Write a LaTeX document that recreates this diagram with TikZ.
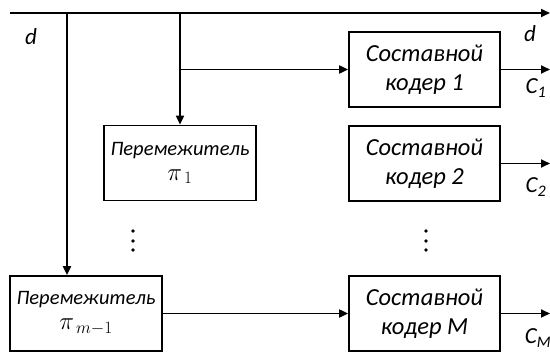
\documentclass[tikz,border=0pt]{standalone}
\usepackage{fontspec}
\setmainfont{Carlito}
\usetikzlibrary{arrows.meta}
\begin{document}
\begin{tikzpicture}[x=1pt,y=-1pt,line width=1.8pt,
  >={Triangle[length=9pt,width=8pt]},
  coderbox/.style={draw,line width=1.7pt,minimum width=151pt,minimum height=75pt,align=center,inner sep=0pt,font=\fontsize{24.5}{28.5}\selectfont\itshape},
  ilvbox/.style={draw,line width=1.7pt,minimum width=152pt,minimum height=75pt,align=center,inner sep=0pt,font=\fontsize{20.5}{24}\selectfont\itshape},
  lbl/.style={font=\fontsize{23}{26}\selectfont\itshape,inner sep=0pt},
  dotmark/.style={fill=black}]
\useasboundingbox (0,0) rectangle (550,356);
\node[coderbox] (c1) at (424.5,69.5) {Составной\\кодер 1};
\node[coderbox] (c2) at (424.5,163.5) {Составной\\кодер 2};
\node[coderbox] (cM) at (424.5,313.5) {Составной\\кодер M};
\node[ilvbox] (p1) at (180,163) {Перемежитель\\[1pt]{\fontsize{24}{24}\selectfont$\pi_{\,1}$}};
\node[ilvbox] (pM) at (86,313.5) {Перемежитель\\[1pt]{\fontsize{24}{24}\selectfont$\pi_{\,m-1}$}};
\coordinate (s) at (10,13);
\coordinate (e) at (550,13);
\coordinate (j1) at (67,13);
\coordinate (j2) at (180,13);
\coordinate (j3) at (180,69.5);
\draw[->] (s) -- (e);
\draw[->] (j1) -- (j1 |- pM.north);
\draw[->] (j2) -- (p1.north);
\draw[->] (j3) -- (c1.west);
\draw[->] (c1.east) -- (c1.east -| e);
\draw[->] (c2.east) -- (c2.east -| e);
\draw[->] (cM.east) -- (cM.east -| e);
\draw[->] (pM.east) -- (cM.west);
\node[lbl] (dl) at (31,37) {d};
\node[lbl] (dr) at (530,34) {d};
\node[lbl] (l1) at (536,88) {C\textsubscript{1}};
\node[lbl] (l2) at (536,187) {C\textsubscript{2}};
\node[lbl] (lM) at (538,338) {C\textsubscript{M}};
\foreach \yy in {231,241,250} {
  \fill[dotmark] (133,\yy) circle (1.9pt);
  \fill[dotmark] (426,\yy) circle (1.9pt);
}
\end{tikzpicture}
\end{document}
